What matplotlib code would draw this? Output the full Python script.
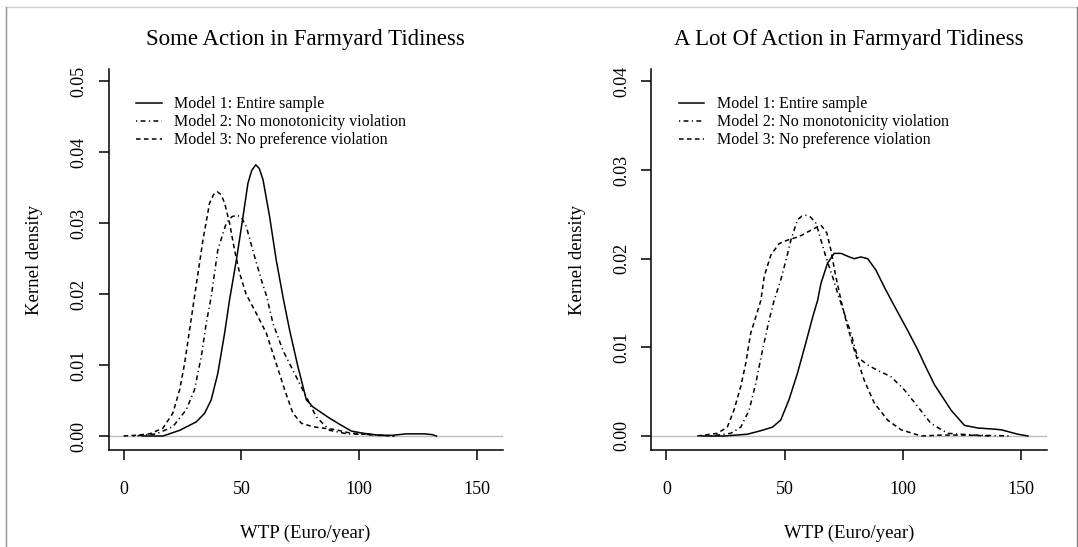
import matplotlib
matplotlib.use('Agg')
import matplotlib.pyplot as plt
from matplotlib.lines import Line2D

plt.rcParams['font.family'] = ['Liberation Serif', 'DejaVu Serif']

# Panel 1: Some Action in Farmyard Tidiness
some_m1_x = [8, 16.7, 23.8, 30.9, 34.4, 37.2, 40.0, 42.9, 45.0, 47.9, 50.7, 52.8, 54.4, 56.1, 57.6,
             59.2, 62.0, 64.8, 67.9, 70.5, 74.0, 77.6, 80.4, 87.5, 92.0, 96.7, 101.6, 108.7, 114.0,
             117.0, 120.0, 127.8, 131.0, 132.8]
some_m1_y = [0, 0.0000, 0.0008, 0.0020, 0.0032, 0.0051, 0.0088, 0.0145, 0.0192, 0.0248, 0.0309, 0.0356,
             0.0374, 0.0382, 0.0377, 0.0361, 0.0309, 0.0248, 0.0192, 0.0149, 0.0098, 0.0051, 0.0041,
             0.0025, 0.0016, 0.0007, 0.0004, 0.0001, 0.0001, 0.0002, 0.0003, 0.0003, 0.0002, 0]
some_m2_x = [4, 8, 13.9, 20.9, 26.6, 30.1, 33.0, 35.1, 37.2, 40.0, 43.6, 46.0, 48.1, 50.0, 52.1, 55.6,
             58.5, 60.8, 63.4, 67.6, 72.6, 77.6, 81.8, 87.5, 95.0, 105.0, 115.0]
some_m2_y = [0, 0.0001, 0.0003, 0.0013, 0.0037, 0.0065, 0.0112, 0.0159, 0.0196, 0.0262, 0.0300, 0.0309,
             0.0311, 0.0308, 0.0295, 0.0253, 0.0220, 0.0196, 0.0159, 0.0121, 0.0088, 0.0055, 0.0027,
             0.0008, 0.0003, 0.0002, 0]
some_m3_x = [0, 5, 11.0, 16.7, 20.9, 23.8, 25.9, 28.0, 30.1, 33.7, 36.5, 38.2, 39.8, 41.4, 42.9, 45.0,
             47.1, 49.3, 52.0, 56.3, 60.6, 64.8, 68.4, 71.9, 75.5, 80.4, 85.0, 90.0, 95.0, 100.0, 108.0,
             115.0]
some_m3_y = [0, 0.0001, 0.0003, 0.0011, 0.0032, 0.0065, 0.0102, 0.0149, 0.0196, 0.0276, 0.0328, 0.0340,
             0.0344, 0.0340, 0.0328, 0.0300, 0.0262, 0.0229, 0.0200, 0.0173, 0.0145, 0.0102, 0.0065,
             0.0032, 0.0018, 0.0013, 0.0011, 0.0009, 0.0005, 0.0003, 0.0001, 0]

# Panel 2: A Lot Of Action in Farmyard Tidiness
lot_m1_x = [15, 24.4, 34.3, 40.0, 44.9, 48.4, 51.9, 55.5, 59.0, 61.9, 64.0, 65.4, 68.2, 71.0, 73.9,
            77.4, 79.5, 82.3, 85.2, 88.7, 92.2, 96.4, 102.1, 106.4, 109.2, 113.4, 120.5, 126.1, 131.8,
            137.4, 141.7, 148.7, 153.0]
lot_m1_y = [0, 0, 0.0002, 0.0006, 0.0010, 0.0018, 0.0041, 0.0071, 0.0105, 0.0134, 0.0153, 0.0172,
            0.0195, 0.0206, 0.0206, 0.0202, 0.0200, 0.0202, 0.0200, 0.0187, 0.0168, 0.0147, 0.0119,
            0.0097, 0.0081, 0.0058, 0.0029, 0.0012, 0.0009, 0.0008, 0.0007, 0.0002, 0]
lot_m2_x = [18.8, 27.2, 31.5, 35.0, 37.8, 40.7, 43.5, 45.6, 48.4, 50.6, 52.7, 55.5, 57.3, 59.0, 61.0,
            63.3, 65.4, 67.5, 70.3, 72.5, 74.6, 78.1, 80.9, 85.2, 89.4, 95.0, 100.7, 106.4, 112.0,
            119.1, 130.3, 146.0]
lot_m2_y = [0, 0.0003, 0.0010, 0.0029, 0.0059, 0.0097, 0.0131, 0.0153, 0.0176, 0.0198, 0.0221, 0.0244,
            0.0248, 0.0249, 0.0247, 0.0240, 0.0221, 0.0202, 0.0180, 0.0161, 0.0144, 0.0116, 0.0089,
            0.0080, 0.0074, 0.0067, 0.0052, 0.0033, 0.0014, 0.0003, 0.0001, 0]
lot_m3_x = [13.1, 21.6, 25.8, 28.6, 31.5, 33.6, 35.7, 37.8, 40.0, 41.4, 44.2, 47.7, 51.3, 56.2, 61.1,
            65.4, 67.9, 69.6, 71.7, 73.9, 76.7, 79.5, 83.7, 88.0, 93.6, 99.3, 107.8, 116.2, 127.5, 137.5]
lot_m3_y = [0, 0.0003, 0.0010, 0.0029, 0.0056, 0.0082, 0.0116, 0.0134, 0.0153, 0.0180, 0.0204, 0.0217,
            0.0221, 0.0225, 0.0232, 0.0238, 0.0229, 0.0210, 0.0180, 0.0153, 0.0123, 0.0097, 0.0063,
            0.0037, 0.0018, 0.0007, 0, 0.0001, 0.0001, 0]

labels = ['Model 1: Entire sample', 'Model 2: No monotonicity violation',
          'Model 3: No preference violation']
titles = ['Some Action in Farmyard Tidiness', 'A Lot Of Action in Farmyard Tidiness']
x_ticks = [0, 50, 100, 150]
y_ticks = [[0, 0.01, 0.02, 0.03, 0.04, 0.05], [0, 0.01, 0.02, 0.03, 0.04]]

styles = ['-', (0, (0.8, 2.2, 3.2, 2.2)), (0, (3, 2.2))]

W, H = 1078, 547
fig = plt.figure(figsize=(W / 100, H / 100), dpi=100)

panels = [
    dict(x0=108.5, x1=502.8, ylim=(-0.00197, 0.0517),
         series=[(some_m1_x, some_m1_y), (some_m2_x, some_m2_y), (some_m3_x, some_m3_y)]),
    dict(x0=651.2, x1=1046.9, ylim=(-0.00158, 0.0414),
         series=[(lot_m1_x, lot_m1_y), (lot_m2_x, lot_m2_y), (lot_m3_x, lot_m3_y)]),
]
top, bottom = 69, 450

for i, p in enumerate(panels):
    ax = fig.add_axes([p['x0'] / W, 1 - bottom / H, (p['x1'] - p['x0']) / W, (bottom - top) / H])
    ax.axhline(0, color='#bebebe', lw=1.0, zorder=1)
    for (xs, ys), ls, lab in zip(p['series'], styles, labels):
        ax.plot(xs, ys, color='black', lw=1.1, linestyle=ls, label=lab, zorder=2)
    ax.set_xlim(-6.4, 161)
    ax.set_ylim(*p['ylim'])
    ax.set_xticks(x_ticks)
    ax.set_xticklabels([str(t) for t in x_ticks])
    ax.set_yticks(y_ticks[i])
    ax.set_yticklabels(['%.2f' % t for t in y_ticks[i]], rotation=90, va='center')
    for s in ['top', 'right']:
        ax.spines[s].set_visible(False)
    for s in ['left', 'bottom']:
        ax.spines[s].set_linewidth(1.1)
    ax.tick_params(axis='both', direction='out', length=7, width=1.1, labelsize=13)
    ax.tick_params(axis='x', pad=15)
    ax.tick_params(axis='y', pad=8)
    ax.legend(loc='upper left', bbox_to_anchor=(0.07, 0.928), frameon=False, fontsize=11.5,
              handlelength=1.6, handletextpad=0.8, labelspacing=0.12, borderpad=0, borderaxespad=0)

    cx = (p['x0'] + p['x1']) / 2
    fig.text(cx / W, 1 - 40 / H, titles[i], ha='center', va='center', fontsize=16.5)
    fig.text(cx / W, 1 - 533 / H, 'WTP (Euro/year)', ha='center', va='center', fontsize=13.5)
    fig.text((p['x0'] - 74) / W, 1 - (top + bottom) / 2 / H, 'Kernel density', rotation=90,
             ha='center', va='center', fontsize=13.5)

# thin frame of the original screenshot
fig.add_artist(Line2D([6 / W, 1], [1 - 7 / H, 1 - 7 / H], color='#d0d0d0', lw=1))
fig.add_artist(Line2D([6 / W, 6 / W], [0, 1 - 7 / H], color='#909090', lw=1))
fig.add_artist(Line2D([1077 / W, 1077 / W], [0, 1 - 7 / H], color='#808080', lw=1))

fig.savefig('out.png', dpi=100)
